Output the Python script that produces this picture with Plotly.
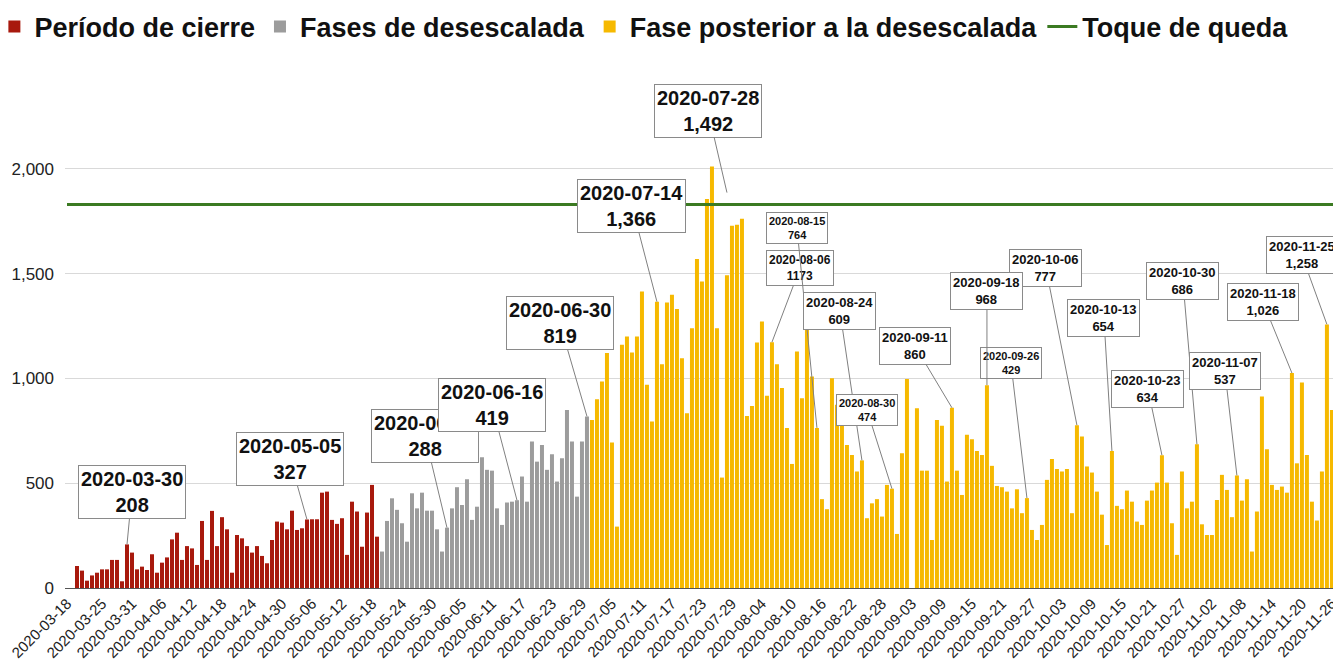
import pandas as pd
import plotly.graph_objects as go

# Daily values
closure_start = "2020-03-20"
closure_values = [
    105, 83, 35, 60, 73, 89, 89, 134, 134, 32, 208, 169,
    89, 102, 86, 161, 73, 121, 146, 232, 264, 134, 200, 189, 110, 320, 134,
    368, 200, 338, 280, 73, 253, 237, 200, 169, 200, 153, 118, 229, 317, 312,
    280, 369, 277, 285, 327, 328, 328, 455, 460, 325, 306, 333, 158, 412, 365,
    197, 360, 492, 245,
]

deesc_start = "2020-05-20"
deesc_values = [
    174, 320, 428, 373, 309, 221, 452, 380, 455, 369, 369, 280,
    174, 288, 380, 481, 396, 519, 325, 388, 624, 564, 560, 380, 301, 408, 412,
    419, 532, 412, 699, 603, 683, 564, 638, 508, 619, 850, 699, 436, 699, 819,
]

post_start = "2020-07-01"
post_values = [
    # julio
    802, 901, 985, 1121, 694, 293, 1161, 1200, 1124, 1200, 1415, 970, 794, 1366,
    1068, 1363, 1399, 1331, 1097, 834, 1240, 1570, 1463, 1856, 2012, 1240, 527,
    1492, 1729, 1734, 1762,
    # agosto
    821, 869, 1172, 1272, 917, 1173, 1068, 954, 763, 592, 1129, 906, 1235, 1009,
    764, 424, 376, 1001, 874, 810, 683, 635, 556, 609, 333, 404, 424, 341, 492,
    474, 258,
    # septiembre
    643, 997, 0, 858, 560, 560, 229, 802, 774, 508, 860, 560, 444, 731, 710, 654,
    635, 968, 583, 487, 481, 460, 380, 471, 357, 429, 277, 229, 301, 516,
    # octubre
    616, 568, 556, 568, 357, 777, 723, 580, 551, 460, 350, 205, 654, 392, 376,
    465, 412, 317, 301, 417, 465, 503, 634, 503, 309, 158, 556, 380, 412, 686, 304,
    # noviembre
    253, 253, 420, 540, 468, 338, 537, 417, 519, 174, 365, 914, 662, 492, 468,
    484, 455, 1026, 595, 981, 635, 412, 322, 556, 1258, 850, 858, 818,
]

curfew_dates = ["2020-03-18", "2020-11-29"]
curfew_values = [1830, 1830]

tick_dates = [
    "2020-03-18", "2020-03-25", "2020-03-31", "2020-04-06", "2020-04-12",
    "2020-04-18", "2020-04-24", "2020-04-30", "2020-05-06", "2020-05-12",
    "2020-05-18", "2020-05-24", "2020-05-30", "2020-06-05", "2020-06-11",
    "2020-06-17", "2020-06-23", "2020-06-29", "2020-07-05", "2020-07-11",
    "2020-07-17", "2020-07-23", "2020-07-29", "2020-08-04", "2020-08-10",
    "2020-08-16", "2020-08-22", "2020-08-28", "2020-09-03", "2020-09-09",
    "2020-09-15", "2020-09-21", "2020-09-27", "2020-10-03", "2020-10-09",
    "2020-10-15", "2020-10-21", "2020-10-27", "2020-11-02", "2020-11-08",
    "2020-11-14", "2020-11-20", "2020-11-26",
]

# callouts: date, label value (listed in drawing order)
callout_dates = [
    "2020-03-30", "2020-05-05", "2020-06-02", "2020-06-16", "2020-06-30",
    "2020-07-14", "2020-07-28", "2020-08-06", "2020-08-15", "2020-08-24",
    "2020-08-30", "2020-09-11", "2020-09-26", "2020-10-06", "2020-09-18",
    "2020-10-13", "2020-10-23", "2020-10-30", "2020-11-07", "2020-11-18",
    "2020-11-25",
]
callout_values = [
    "208", "327", "288", "419", "819", "1,366", "1,492", "1173", "764", "609",
    "474", "860", "429", "777", "968", "654", "634", "686", "537", "1,026",
    "1,258",
]
# where the 07-28 pointer stops (above the bar)
callout_tip_override = {"2020-07-28": 1887}

# box offsets (px) and font size for each callout
callout_style = [
    (5, -52, 20), (-17, -60, 20), (-22, -92, 20), (-25, -95, 20), (-27, -93, 20),
    (-25, -96, 20), (-19, -82, 20), (28, -74, 12), (-20, -200, 11), (-22, -149, 13),
    (-25, -79, 11), (-37, -62, 13), (-16, -135, 11), (-31, -157, 13), (0, -94, 13),
    (-8, -133, 13), (-14, -66, 13), (-14, -163, 13), (-12, -104, 13), (-29, -71, 13),
    (-25, -69, 13),
]

closure_dates = pd.date_range(closure_start, periods=len(closure_values), freq="D")
deesc_dates = pd.date_range(deesc_start, periods=len(deesc_values), freq="D")
post_dates = pd.date_range(post_start, periods=len(post_values), freq="D")

all_values = pd.concat([
    pd.Series(closure_values, index=closure_dates),
    pd.Series(deesc_values, index=deesc_dates),
    pd.Series(post_values, index=post_dates),
])

font_family = "Liberation Sans, Arial, sans-serif"

fig = go.Figure()
fig.add_trace(go.Bar(x=closure_dates, y=closure_values, name="Período de cierre",
                     marker_color="#A8190D", marker_line_width=0))
fig.add_trace(go.Bar(x=deesc_dates, y=deesc_values, name="Fases de desescalada",
                     marker_color="#9C9C9C", marker_line_width=0))
fig.add_trace(go.Bar(x=post_dates, y=post_values, name="Fase posterior a la desescalada",
                     marker_color="#F6B900", marker_line_width=0))
fig.add_trace(go.Scatter(x=curfew_dates, y=curfew_values, name="Toque de queda",
                         mode="lines", line=dict(color="#3B7A22", width=3)))

annotations = []
for d, v, (ax, ay, size) in zip(callout_dates, callout_values, callout_style):
    tip = callout_tip_override.get(d, all_values[pd.Timestamp(d)])
    annotations.append(dict(
        x=d, y=tip, xref="x", yref="y",
        text=f"<b>{d}<br>{v}</b>",
        showarrow=True, arrowhead=0, arrowwidth=1, arrowcolor="#808080",
        ax=ax, ay=ay,
        bgcolor="white", bordercolor="#8a8a8a", borderwidth=1, borderpad=2,
        font=dict(family=font_family, size=size, color="#111111"),
    ))

# the page adds an 8px body margin, so the figure is shifted by that much
fig.update_layout(
    width=1341, height=665,
    margin=dict(l=57, r=0, t=119, b=85, autoexpand=False),
    plot_bgcolor="white", paper_bgcolor="white",
    barmode="overlay", bargap=0.2,
    font=dict(family=font_family, color="#222222"),
    annotations=annotations,
    legend=dict(
        orientation="h", xref="paper", x=-0.055, xanchor="left",
        yref="paper", y=1.27, yanchor="top",
        font=dict(size=27, color="#111111", weight="bold"), itemwidth=30,
        traceorder="normal", tracegroupgap=0,
    ),
)
fig.update_xaxes(
    type="date", automargin=False,
    range=["2020-03-17 14:24", "2020-11-29 10:00"],
    tickvals=tick_dates, ticktext=tick_dates, tickangle=-45,
    tickfont=dict(size=15, color="#222222"),
    showgrid=False, showline=True, linecolor="#555555", linewidth=1,
    ticks="",
)
fig.update_yaxes(
    range=[0, 2200], automargin=False,
    tickvals=[0, 500, 1000, 1500, 2000], tickformat=",",
    tickfont=dict(size=17, color="#222222"),
    showgrid=True, gridcolor="#d9d9d9", gridwidth=1,
    zeroline=False, showline=False, ticks="", ticklabelstandoff=10,
)

fig.write_html("out.html")
